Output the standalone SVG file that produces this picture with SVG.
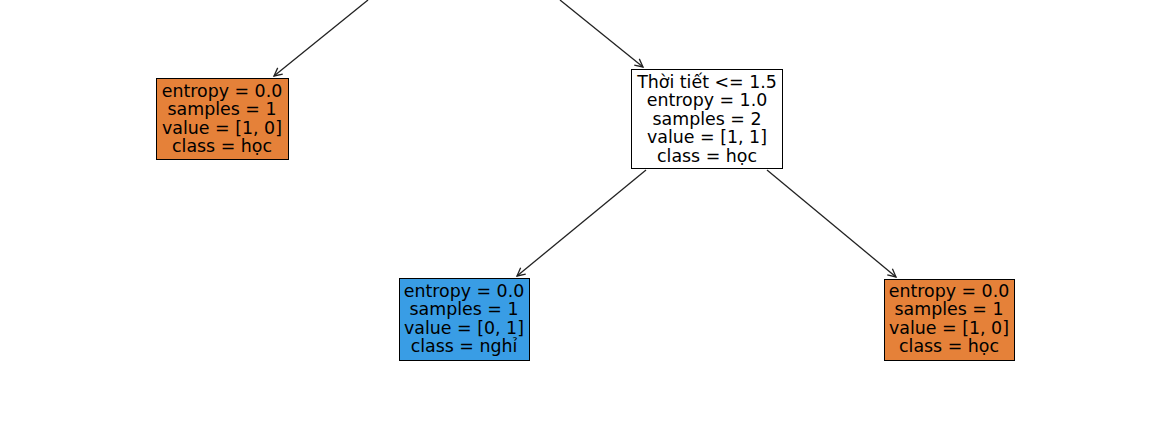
<svg xmlns="http://www.w3.org/2000/svg" width="1149" height="424" viewBox="0 0 1149 424">
<defs>
<style>
.box{stroke:#000;stroke-width:1}
.t{font-family:"DejaVu Sans",sans-serif;font-size:17.4px;text-anchor:middle;fill:#000}
.e{stroke:#222;stroke-width:1.3;fill:none}
</style>
<marker id="ah" markerWidth="12" markerHeight="12" refX="10" refY="6" orient="auto" markerUnits="userSpaceOnUse">
<path d="M2,2 L10,6 L2,10" fill="none" stroke="#222" stroke-width="1.3"/>
</marker>
</defs>
<rect width="1149" height="424" fill="#fff"/>
<g id="connectors">
<line class="e" x1="368" y1="0" x2="274" y2="76" marker-end="url(#ah)"/>
<line class="e" x1="560" y1="0" x2="643" y2="67" marker-end="url(#ah)"/>
<line class="e" x1="646" y1="170" x2="517" y2="276" marker-end="url(#ah)"/>
<line class="e" x1="767" y1="170" x2="896" y2="277" marker-end="url(#ah)"/>
</g>
<g id="leaf1">
<rect class="box" x="156.5" y="78.5" width="132" height="81" fill="#e58139"/>
<text class="t" x="222" y="97">entropy = 0.0</text>
<text class="t" x="222" y="115">samples = 1</text>
<text class="t" x="222" y="134">value = [1, 0]</text>
<text class="t" x="222" y="152">class = học</text>
</g>
<g id="split">
<rect class="box" x="631.5" y="69.5" width="151" height="99" fill="#fff"/>
<text class="t" x="707" y="88">Thời tiết &lt;= 1.5</text>
<text class="t" x="707" y="106">entropy = 1.0</text>
<text class="t" x="707" y="125">samples = 2</text>
<text class="t" x="707" y="143">value = [1, 1]</text>
<text class="t" x="707" y="162">class = học</text>
</g>
<g id="leaf2">
<rect class="box" x="399.5" y="278.5" width="130" height="82" fill="#399de5"/>
<text class="t" x="464" y="297">entropy = 0.0</text>
<text class="t" x="464" y="315">samples = 1</text>
<text class="t" x="464" y="334">value = [0, 1]</text>
<text class="t" x="464" y="352">class = nghỉ</text>
</g>
<g id="leaf3">
<rect class="box" x="884.5" y="279.5" width="130" height="81" fill="#e58139"/>
<text class="t" x="949" y="297">entropy = 0.0</text>
<text class="t" x="949" y="315">samples = 1</text>
<text class="t" x="949" y="334">value = [1, 0]</text>
<text class="t" x="949" y="352">class = học</text>
</g>
</svg>
